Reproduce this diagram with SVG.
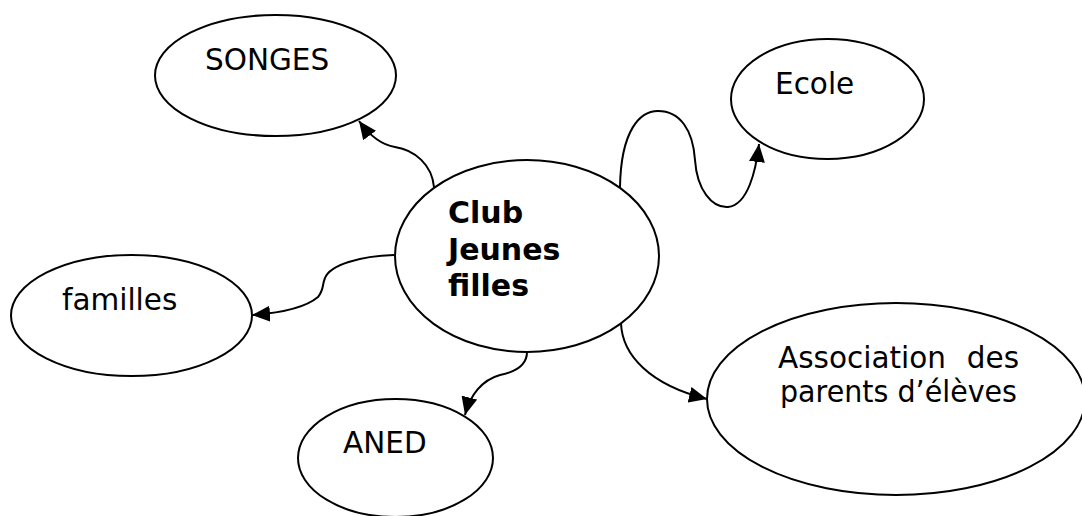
<svg xmlns="http://www.w3.org/2000/svg" width="1082" height="516" viewBox="0 0 1082 516">
<style>
.node ellipse{fill:#fff;stroke:#000;stroke-width:2}
.lbl{font-family:"DejaVu Sans","Liberation Sans",sans-serif;font-size:29.5px;fill:#000}
.bold{font-weight:bold;font-size:30px}
.edge{fill:none;stroke:#000;stroke-width:2}
</style>
<defs>
<marker id="arr" markerUnits="userSpaceOnUse" markerWidth="19" markerHeight="16" refX="18" refY="8" orient="auto">
<path d="M0,0 L18,8 L0,16 z" fill="#000"/>
</marker>
</defs>
<rect width="1082" height="516" fill="#fff"/>
<g id="connectors">
<path class="edge" marker-end="url(#arr)" d="M434,187 C432,165 415,150 395,147 C382,145 370,136 359,121"/>
<path class="edge" marker-end="url(#arr)" d="M620,187 C621,130 640,111 658,111 C680,111 693,130 695,160 C697,190 712,208 728,207 C748,205 756,170 759,144"/>
<path class="edge" marker-end="url(#arr)" d="M394,255 C360,256 330,265 325,278 C322,285 324,290 318,297 C305,308 280,313 252,315"/>
<path class="edge" marker-end="url(#arr)" d="M527,352 C527,365 515,372 500,375 C482,380 470,395 465,415"/>
<path class="edge" marker-end="url(#arr)" d="M621,323 C622,355 650,385 707,399"/>
</g>
<g id="songes" class="node">
<ellipse cx="275.5" cy="75.5" rx="120.5" ry="60.5"/>
<text class="lbl" x="205" y="70">SONGES</text>
</g>
<g id="ecole" class="node">
<ellipse cx="827.5" cy="99" rx="96.5" ry="60"/>
<text class="lbl" x="775" y="94">Ecole</text>
</g>
<g id="familles" class="node">
<ellipse cx="131.5" cy="315.5" rx="120.5" ry="60.5"/>
<text class="lbl" x="62" y="310">familles</text>
</g>
<g id="aned" class="node">
<ellipse cx="395.5" cy="458" rx="97.5" ry="59"/>
<text class="lbl" x="343" y="453">ANED</text>
</g>
<g id="association" class="node">
<ellipse cx="896" cy="399" rx="189" ry="96"/>
<text class="lbl" x="778" y="368">Association</text>
<text class="lbl" x="1019" y="368" text-anchor="end">des</text>
<text class="lbl" x="780" y="402" textLength="237" lengthAdjust="spacingAndGlyphs">parents d’élèves</text>
</g>
<g id="club" class="node">
<ellipse cx="527" cy="256" rx="132" ry="96"/>
<text class="lbl bold" x="448" y="223">Club</text>
<text class="lbl bold" x="448" y="260">Jeunes</text>
<text class="lbl bold" x="448" y="296">filles</text>
</g>
</svg>
